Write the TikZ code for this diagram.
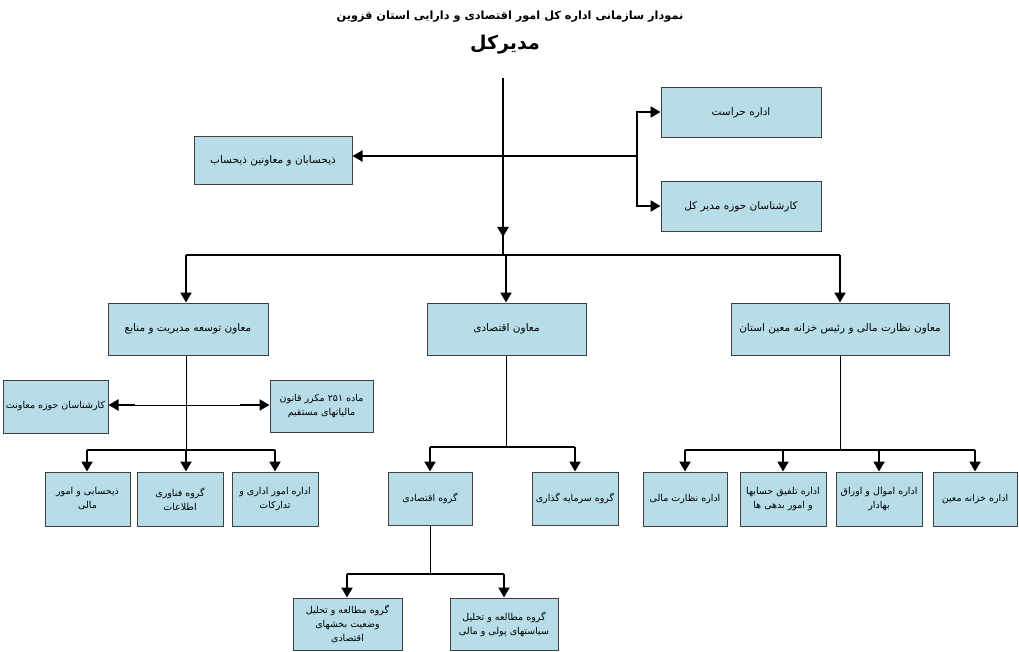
\documentclass[tikz,border=0pt]{standalone}
\usepackage{fontspec}
\usetikzlibrary{arrows.meta}
\TeXXeTstate=1
\newfontfamily\arabicfont[Script=Arabic]{DejaVu Sans}
\newcommand{\fa}[1]{{\arabicfont\beginR #1\endR}}
\definecolor{boxfill}{RGB}{183,221,232}
\tikzset{
 box/.style={draw=black!75,fill=boxfill,line width=1pt,align=center,font=\fontsize{9.5}{14}\selectfont,inner sep=2pt},
 bigbox/.style={font=\fontsize{10.5}{14}\selectfont},
 arr/.style={line width=2.2pt,-{Triangle[length=10pt,width=11pt]}},
 ln/.style={line width=0.7pt},
 thk/.style={line width=2pt},
}
\begin{document}
\begin{tikzpicture}[x=1pt,y=-1pt]
\useasboundingbox (0,0) rectangle (1019,652);
\node (title) at (510,17) {\fontsize{11.3}{14}\selectfont\bfseries\fa{نمودار سازمانی اداره کل امور اقتصادی و دارایی استان قزوین}};
\node (ceo) at (505,45) {\fontsize{19}{22}\selectfont\bfseries\fa{مدیرکل}};
\newcommand{\bx}[7][]{\node[box,#1,minimum width=#4-#2,minimum height=#5-#3] (#6) at ({(#2+#4)/2},{(#3+#5)/2}) {#7};}
\bx[bigbox]{661}{88}{821}{138}{haras}{\fa{اداره حراست}}
\bx[bigbox]{194}{137}{352}{185}{zih}{\fa{ذیحسابان و معاونین ذیحساب}}
\bx[bigbox]{661}{182}{821}{232}{kmod}{\fa{کارشناسان حوزه مدیر کل}}
\bx[bigbox]{108}{303}{268}{355}{mt}{\fa{معاون توسعه مدیریت و منابع}}
\bx[bigbox]{427}{303}{586}{355}{me}{\fa{معاون اقتصادی}}
\bx[bigbox]{731}{303}{949}{355}{mn}{\fa{معاون نظارت مالی و رئیس خزانه معین استان}}
\bx{3}{380}{108}{433}{kmo}{\fa{کارشناسان حوزه معاونت}}
\bx{270}{380}{373}{432}{mad}{\fa{ماده ۲۵۱ مکرر قانون}\\\fa{مالیاتهای مستقیم}}
\bx{45}{472}{130}{526}{zm}{\fa{ذیحسابی و امور}\\\fa{مالی}}
\bx{137}{472}{223}{526}{gf}{\fa{گروه فناوری}\\\fa{اطلاعات}}
\bx{232}{472}{318}{526}{ea}{\fa{اداره امور اداری و}\\\fa{تدارکات}}
\bx{388}{472}{472}{525}{ge}{\fa{گروه اقتصادی}}
\bx{532}{472}{618}{525}{gs}{\fa{گروه سرمایه گذاری}}
\bx{293}{598}{402}{650}{g1}{\fa{گروه مطالعه و تحلیل}\\\fa{وضعیت بخشهای}\\\fa{اقتصادی}}
\bx{450}{598}{558}{650}{g2}{\fa{گروه مطالعه و تحلیل}\\\fa{سیاستهای پولی و مالی}}
\bx{643}{472}{727}{526}{en}{\fa{اداره نظارت مالی}}
\bx{740}{472}{826}{526}{et}{\fa{اداره تلفیق حسابها}\\\fa{و امور بدهی ها}}
\bx{836}{472}{922}{526}{eo}{\fa{اداره اموال و اوراق}\\\fa{بهادار}}
\bx{933}{472}{1017}{526}{ek}{\fa{اداره خزانه معین}}
% top
\coordinate (t0) at (503,78);
\coordinate (t2) at (637,156);
\coordinate (t3) at (503,255);
\draw[thk] (t0) -- (t3);
\draw[arr] (t0) -- (503,237);
\draw[thk] (t2) -- (t2 -| t0);
\draw[arr] (t2) -- (t2 -| zih.east);
\draw[arr] (637,112) -- (637,112 -| haras.west);
\draw[arr] (637,206) -- (637,206 -| kmod.west);
\draw[thk] (637,111) -- (637,207);
\coordinate (b1) at (186,255);
\coordinate (b2) at (506,255);
\coordinate (b3) at (840,255);
\draw[thk] (b1) -- (b3);
\draw[arr] (b1) -- (b1 |- mt.north);
\draw[arr] (b2) -- (b2 |- me.north);
\draw[arr] (b3) -- (b3 |- mn.north);
% left branch
\coordinate (l0) at (186,450);
\coordinate (l1) at (87,450);
\coordinate (l3) at (275,450);
\draw[ln] (l0 |- mt.south) -- (l0);
\draw[thk] (l1) -- (l3);
\draw[arr] (l1) -- (l1 |- zm.north);
\draw[arr] (l0) -- (l0 |- gf.north);
\draw[arr] (l3) -- (l3 |- ea.north);
\coordinate (h1) at (135,405);
\coordinate (h2) at (240,405);
\draw[ln] (h1) -- (h2);
\draw[arr] (h1) -- (h1 -| kmo.east);
\draw[arr] (h2) -- (h2 -| mad.west);
% middle branch
\coordinate (m0) at (506,447);
\coordinate (m1) at (430,447);
\coordinate (m2) at (575,447);
\draw[ln] (m0 |- me.south) -- (m0);
\draw[thk] (m1) -- (m2);
\draw[arr] (m1) -- (m1 |- ge.north);
\draw[arr] (m2) -- (m2 |- gs.north);
\coordinate (s0) at (430,574);
\coordinate (s1) at (347,574);
\coordinate (s2) at (504,574);
\draw[ln] (s0 |- ge.south) -- (s0);
\draw[thk] (s1) -- (s2);
\draw[arr] (s1) -- (s1 |- g1.north);
\draw[arr] (s2) -- (s2 |- g2.north);
% right branch
\coordinate (r0) at (840,450);
\draw[ln] (r0 |- mn.south) -- (r0);
\coordinate (r1) at (685,450);
\coordinate (r2) at (783,450);
\coordinate (r3) at (879,450);
\coordinate (r4) at (975,450);
\draw[thk] (r1) -- (r4);
\draw[arr] (r1) -- (r1 |- en.north);
\draw[arr] (r2) -- (r2 |- et.north);
\draw[arr] (r3) -- (r3 |- eo.north);
\draw[arr] (r4) -- (r4 |- ek.north);
\end{tikzpicture}
\end{document}
